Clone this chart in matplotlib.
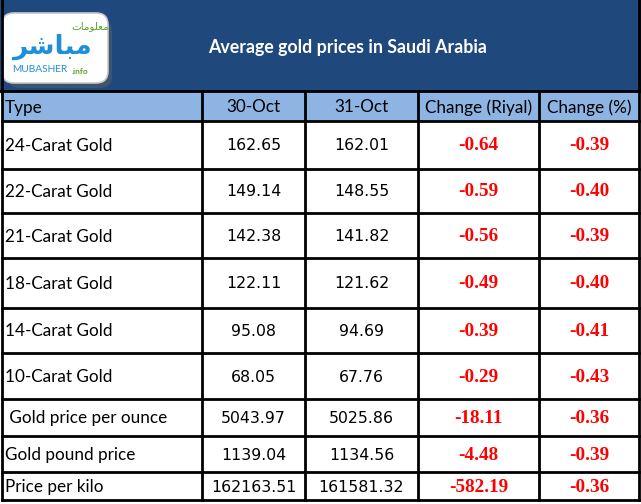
import matplotlib
matplotlib.use('Agg')
import matplotlib.pyplot as plt
from matplotlib.patches import Rectangle, FancyBboxPatch

# table data
title = "Average gold prices in Saudi Arabia"
columns = ["Type", "30-Oct", "31-Oct", "Change (Riyal)", "Change (%)"]
types = ["24-Carat Gold", "22-Carat Gold", "21-Carat Gold", "18-Carat Gold",
         "14-Carat Gold", "10-Carat Gold", " Gold price per ounce",
         "Gold pound price", "Price per kilo"]
price_30 = [162.65, 149.14, 142.38, 122.11, 95.08, 68.05, 5043.97, 1139.04, 162163.51]
price_31 = [162.01, 148.55, 141.82, 121.62, 94.69, 67.76, 5025.86, 1134.56, 161581.32]
change_riyal = [-0.64, -0.59, -0.56, -0.49, -0.39, -0.29, -18.11, -4.48, -582.19]
change_pct = [-0.39, -0.40, -0.39, -0.40, -0.41, -0.43, -0.36, -0.39, -0.36]

# layout (pixel grid)
W, H = 641, 504
col_edges = [2, 202, 305, 418, 539, 639]
header_top = 92
row_edges = [121, 169, 213, 258, 308, 353, 399, 436, 472, 500]

dark_blue = '#1F497D'
light_blue = '#8DB4E2'
red = '#FF0000'
sans = ['Lato', 'DejaVu Sans']
serif = ['Liberation Serif', 'DejaVu Serif']

fig = plt.figure(figsize=(W / 100, H / 100), dpi=100)
ax = fig.add_axes([0, 0, 1, 1])
ax.set_xlim(0, W)
ax.set_ylim(H, 0)
ax.axis('off')

# banner
ax.add_patch(Rectangle((0, 0), W, header_top, color=dark_blue, zorder=0))
ax.text((205 + 490) / 2, 47, title, color='white', fontsize=12.8, fontweight='bold',
        family=sans, ha='center', va='center')

# logo
ax.add_patch(FancyBboxPatch((8, 20), 104, 68, boxstyle='round,pad=0,rounding_size=12',
                            fc='#4a5a6a', ec='none', zorder=1, alpha=0.7))
ax.add_patch(FancyBboxPatch((2, 13), 106, 70, boxstyle='round,pad=0,rounding_size=12',
                            fc='white', ec='#c8c8c8', lw=1.2, zorder=2))
ax.text(90, 26, "\uFE95\uFE8E\uFEE3\uFEEE\uFEE0\uFECC\uFEE3", color='#5aa02c',
        fontsize=7.5, family='DejaVu Sans', ha='center', va='center', zorder=3)
ax.text(52, 47, "\uFEAE\uFEB7\uFE8E\uFE92\uFEE3", color='#1f8fd6',
        fontsize=19, fontweight='bold', family='DejaVu Sans', ha='center', va='center', zorder=3)
ax.text(40, 70, "MUBASHER", color='#1f8fd6', fontsize=7.3, family=sans,
        ha='center', va='center', zorder=3)
ax.text(80, 71, ".info", color='#5aa02c', fontsize=6, fontweight='bold', family=sans,
        ha='center', va='center', zorder=3)

# header row
ax.add_patch(Rectangle((col_edges[0], header_top), col_edges[-1] - col_edges[0],
                       row_edges[0] - header_top, color=light_blue, zorder=0))
ax.add_patch(Rectangle((col_edges[0], row_edges[0]), col_edges[-1] - col_edges[0],
                       row_edges[-1] - row_edges[0], color='white', zorder=0))

hy = (header_top + row_edges[0]) / 2 + 1
for i, c in enumerate(columns):
    if i == 0:
        ax.text(col_edges[0] + 3, hy, c, fontsize=12.3, family=sans, ha='left', va='center')
    else:
        ax.text((col_edges[i] + col_edges[i + 1]) / 2, hy, c, fontsize=12.3, family=sans,
                ha='center', va='center')

# body rows
for r in range(len(types)):
    y = (row_edges[r] + row_edges[r + 1]) / 2 + 1
    ax.text(col_edges[0] + 3, y, types[r], fontsize=12.3, family=sans, ha='left', va='center')
    ax.text((col_edges[1] + col_edges[2]) / 2, y, f"{price_30[r]:.2f}", fontsize=11.3,
            family='DejaVu Sans', ha='center', va='center')
    ax.text((col_edges[2] + col_edges[3]) / 2, y, f"{price_31[r]:.2f}", fontsize=11.3,
            family='DejaVu Sans', ha='center', va='center')
    ax.text((col_edges[3] + col_edges[4]) / 2, y, f"{change_riyal[r]:.2f}", fontsize=13.8,
            fontweight='bold', color=red, family=serif, ha='center', va='center')
    ax.text((col_edges[4] + col_edges[5]) / 2, y, f"{change_pct[r]:.2f}", fontsize=13.8,
            fontweight='bold', color=red, family=serif, ha='center', va='center')

# grid lines
lw = 2.0
ax.plot([0, W], [header_top - 1, header_top - 1], color='black', lw=lw, zorder=5)
for yl in row_edges:
    ax.plot([col_edges[0], col_edges[-1]], [yl, yl], color='black', lw=lw, zorder=5)
for xl in col_edges:
    top = 0 if xl in (col_edges[0], col_edges[-1]) else header_top
    ax.plot([xl, xl], [top, row_edges[-1]], color='black', lw=lw, zorder=5)

fig.savefig('out.png', dpi=100)
